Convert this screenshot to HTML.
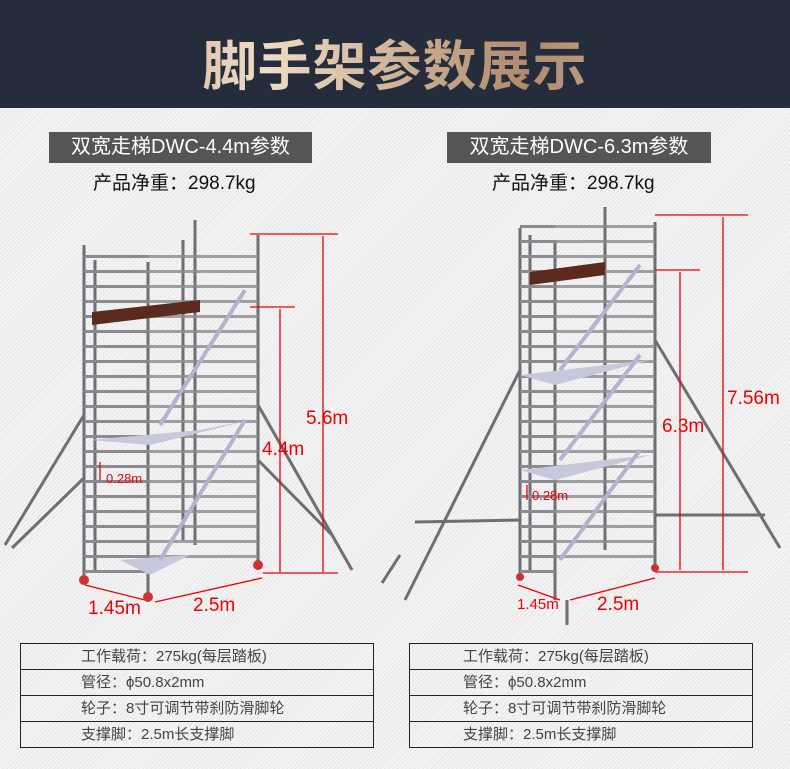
<!DOCTYPE html>
<html><head><meta charset="utf-8"><style>
body{margin:0;width:790px;height:769px;overflow:hidden;font-family:"Liberation Sans","Noto Sans CJK SC",sans-serif;
background:repeating-linear-gradient(135deg,#f4f4f4 0 2px,#e6e6e6 2px 3px);position:relative}
.hd{position:absolute;left:0;top:0;width:790px;height:108px;background:#252c3c}
.ti{position:absolute;left:0;top:22px;width:790px;text-align:center;font-size:54px;font-weight:bold;letter-spacing:1px;
background:linear-gradient(90deg,#b08a6c,#f0dcc4,#b08a6c,#e8d0b6);-webkit-background-clip:text;color:transparent;font-family:"Noto Sans CJK SC",sans-serif}
.lb{position:absolute;top:132px;height:31px;background:#555;color:#fff;font-size:20px;line-height:31px;text-align:center}
.wt{position:absolute;top:168px;font-size:19px;color:#111}
table{position:absolute;top:643px;border-collapse:collapse;font-size:15px;color:#444}
td{border:1px solid #222;height:25px;line-height:25px;padding:0 0 0 60px}
.t2 td{padding-left:53px}
</style></head><body>
<div class="hd"></div><div class="ti">脚手架参数展示</div>
<div class="lb" style="left:49px;width:263px">双宽走梯DWC-4.4m参数</div>
<div class="lb" style="left:447px;width:264px">双宽走梯DWC-6.3m参数</div>
<div class="wt" style="left:93px">产品净重：298.7kg</div>
<div class="wt" style="left:492px">产品净重：298.7kg</div>
<svg width="790" height="769" style="position:absolute;left:0;top:0">
<defs><pattern id="r" width="10" height="15" patternUnits="userSpaceOnUse"><rect width="10" height="3" fill="#8a8a90"/></pattern></defs>
<g stroke="#6e6e74" stroke-width="3" fill="none">
<line x1="84" y1="245" x2="84" y2="575"/><line x1="148" y1="262" x2="148" y2="600"/><line x1="195" y1="220" x2="195" y2="545"/><line x1="258" y1="235" x2="258" y2="570"/>
<line x1="95" y1="260" x2="95" y2="570"/><line x1="183" y1="240" x2="183" y2="540"/>
<line x1="5" y1="545" x2="84" y2="415"/><line x1="12" y1="548" x2="84" y2="478"/>
<line x1="258" y1="405" x2="352" y2="570"/><line x1="258" y1="460" x2="332" y2="535"/>
<line x1="382" y1="583" x2="400" y2="555"/>
<line x1="520" y1="228" x2="520" y2="578"/><line x1="555" y1="240" x2="555" y2="600"/><line x1="605" y1="207" x2="605" y2="550"/><line x1="655" y1="222" x2="655" y2="570"/>
<line x1="530" y1="235" x2="530" y2="570"/>
<line x1="405" y1="600" x2="520" y2="370"/><line x1="415" y1="522" x2="520" y2="520"/>
<line x1="655" y1="340" x2="780" y2="548"/><line x1="655" y1="515" x2="765" y2="515"/>
<line x1="567" y1="600" x2="567" y2="625"/>
</g>
<rect x="84" y="250" width="64" height="325" fill="url(#r)"/>
<rect x="148" y="250" width="110" height="320" fill="url(#r)" opacity=".8"/>
<rect x="520" y="220" width="35" height="355" fill="url(#r)"/>
<rect x="555" y="220" width="100" height="350" fill="url(#r)" opacity=".8"/>
<g fill="#5a2a1e"><polygon points="92,312 200,300 200,312 92,325"/><polygon points="530,272 605,262 605,275 530,285"/></g>
<g fill="#c8c8dc"><polygon points="90,440 200,430 250,420 150,445"/><polygon points="120,560 190,555 150,575"/>
<polygon points="520,375 605,365 650,360 555,385"/><polygon points="520,470 605,460 650,455 555,480"/></g>
<g stroke="#b8b0cc" stroke-width="4"><line x1="160" y1="425" x2="245" y2="290"/><line x1="160" y1="560" x2="245" y2="420"/>
<line x1="560" y1="370" x2="640" y2="265"/><line x1="560" y1="460" x2="640" y2="355"/><line x1="560" y1="560" x2="640" y2="450"/></g>
<g stroke="#e00" stroke-width="1.3" fill="none">
<line x1="250" y1="234" x2="338" y2="234"/><line x1="323" y1="236" x2="323" y2="572"/>
<line x1="250" y1="307" x2="295" y2="307"/><line x1="280" y1="309" x2="280" y2="572"/>
<line x1="263" y1="573" x2="338" y2="573"/>
<line x1="100" y1="462" x2="100" y2="480"/>
<line x1="85" y1="585" x2="145" y2="600"/><line x1="155" y1="602" x2="262" y2="578"/>
<line x1="655" y1="215" x2="748" y2="215"/><line x1="723" y1="217" x2="723" y2="570"/>
<line x1="655" y1="270" x2="700" y2="270"/><line x1="680" y1="272" x2="680" y2="570"/>
<line x1="655" y1="572" x2="748" y2="572"/>
<line x1="527" y1="485" x2="527" y2="500"/>
<line x1="518" y1="585" x2="560" y2="600"/><line x1="570" y1="600" x2="655" y2="578"/>
</g>
<g fill="#e00" font-size="19" font-family="Liberation Sans,sans-serif">
<text x="306" y="424">5.6m</text><text x="262" y="455">4.4m</text><text x="106" y="483" font-size="13">0.28m</text>
<text x="88" y="614">1.45m</text><text x="193" y="611">2.5m</text>
<text x="727" y="404">7.56m</text><text x="662" y="432">6.3m</text><text x="532" y="500" font-size="13">0.28m</text>
<text x="517" y="609" font-size="15">1.45m</text><text x="597" y="610">2.5m</text></g>
<g fill="#c33"><circle cx="84" cy="580" r="5"/><circle cx="148" cy="597" r="5"/><circle cx="258" cy="565" r="5"/><circle cx="520" cy="577" r="4"/><circle cx="655" cy="568" r="4"/></g>
</svg>
<table style="left:20px;width:354px"><tr><td>工作载荷：275kg(每层踏板)</td></tr><tr><td>管径：ϕ50.8x2mm</td></tr><tr><td>轮子：8寸可调节带刹防滑脚轮</td></tr><tr><td>支撑脚：2.5m长支撑脚</td></tr></table>
<table class="t2" style="left:409px;width:344px"><tr><td>工作载荷：275kg(每层踏板)</td></tr><tr><td>管径：ϕ50.8x2mm</td></tr><tr><td>轮子：8寸可调节带刹防滑脚轮</td></tr><tr><td>支撑脚：2.5m长支撑脚</td></tr></table>
</body></html>
